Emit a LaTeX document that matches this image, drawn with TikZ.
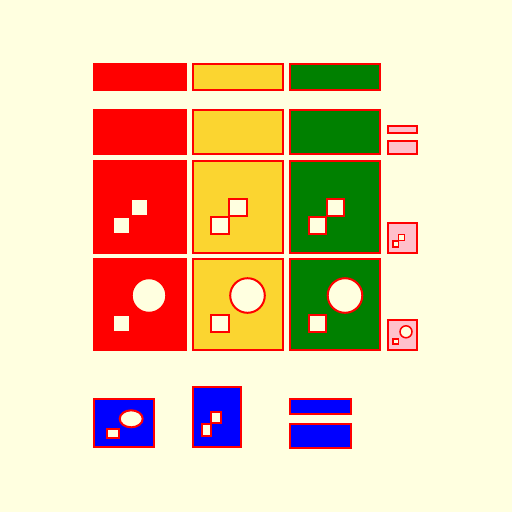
\documentclass[tikz,border=0pt]{standalone}
\definecolor{bg}{RGB}{255,255,224}
\definecolor{cyel}{RGB}{251,213,48}
\definecolor{cgreen}{RGB}{0,128,0}
\definecolor{cpink}{RGB}{255,192,203}
\definecolor{cblue}{RGB}{0,0,255}
\definecolor{cred}{RGB}{255,0,0}
\tikzset{
  box/.style={draw=cred,line width=2pt},
  hole/.style={draw=cred,fill=bg,line width=2pt},
  thin/.style={draw=cred,fill=bg,line width=1.5pt}
}
\begin{document}
\begin{tikzpicture}[x=1pt,y=-1pt]
\fill[bg] (0,0) rectangle (512,512);
\useasboundingbox (0,0) rectangle (512,512);
% columns
\foreach \xl/\xr/\c in {94/186/cred,192.5/282.5/cyel,290/380/cgreen}{
  \draw[box,fill=\c] (\xl,64.3) rectangle (\xr,90);
  \draw[box,fill=\c] (\xl,110) rectangle (\xr,154);
  \draw[box,fill=\c] (\xl,161.3) rectangle (\xr,252.7);
  \draw[box,fill=\c] (\xl,259.3) rectangle (\xr,350);
  % row 3 squares
  \draw[hole] (\xl+18.5,216.5) rectangle (\xl+36,234);
  \draw[hole] (\xl+36.5,198.5) rectangle (\xl+54,216);
  % row 4
  \draw[hole] (\xl+18.5,314.5) rectangle (\xl+36,331.5);
  \draw[hole] (\xl+55,295.5) circle[radius=17.3];
}
% pink column
\draw[box,fill=cpink] (387.7,125.7) rectangle (417.3,133);
\draw[box,fill=cpink] (387.7,140.7) rectangle (417.3,154);
\draw[box,fill=cpink] (387.7,222.7) rectangle (417.3,252.7);
\draw[thin] (393,241) rectangle (398.6,247);
\draw[thin] (398.5,234.5) rectangle (404.6,240.3);
\draw[box,fill=cpink] (387.7,320.3) rectangle (417.3,350);
\draw[thin] (393,339) rectangle (398.3,344);
\draw[thin] (406,331.8) circle[radius=6];
% blue row
\draw[box,fill=cblue] (94.3,399.3) rectangle (154.3,447.3);
\draw[hole] (131.2,418.8) ellipse[x radius=11.5,y radius=8.5];
\draw[hole] (107.3,429) rectangle (118.7,438);
\draw[box,fill=cblue] (192.7,387) rectangle (240.7,447.3);
\draw[hole] (202,424) rectangle (211.3,435.7);
\draw[hole] (211.3,412) rectangle (221,423.3);
\draw[box,fill=cblue] (290.3,399) rectangle (350.7,413.7);
\draw[box,fill=cblue] (290.3,424.3) rectangle (350.7,447.7);
\end{tikzpicture}
\end{document}
